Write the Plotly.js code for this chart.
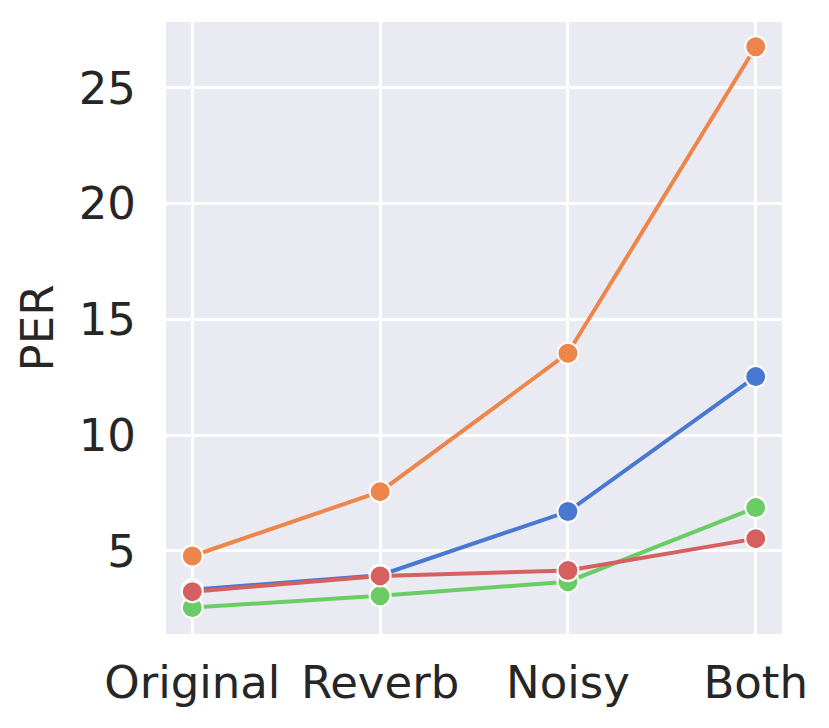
<!DOCTYPE html>
<html>
<head>
<meta charset="utf-8">
<script src="https://cdn.plot.ly/plotly-3.0.1.min.js"></script>
<style>html,body{margin:0;padding:0;background:#fff;}#chart{width:829px;height:728px;}</style>
</head>
<body>
<div id="chart"></div>
<script>
const categories = ["Original", "Reverb", "Noisy", "Both"];
const seriesNames = ["A", "B", "C", "D"];
const blueValues = [3.32, 3.95, 6.70, 12.53];
const orangeValues = [4.78, 7.56, 13.54, 26.78];
const greenValues = [2.55, 3.06, 3.67, 6.87];
const redValues = [3.24, 3.92, 4.15, 5.53];
const colors = ["#4878d0", "#ee854a", "#6acc64", "#d65f5f"];
const yTicks = [5, 10, 15, 20, 25];

const allValues = [blueValues, orangeValues, greenValues, redValues];
const xIdx = categories.map((c, i) => i);
const traces = allValues.map((vals, k) => ({
  type: "scatter",
  mode: "lines+markers",
  name: seriesNames[k],
  x: xIdx,
  y: vals,
  line: {color: colors[k], width: 4},
  marker: {color: colors[k], size: 21, line: {color: "#ffffff", width: 2}},
  showlegend: false
}));

const font = {family: "DejaVu Sans, sans-serif", size: 45, color: "#262626"};
const layout = {
  width: 829, height: 728,
  margin: {l: 166, r: 47, t: 22, b: 94},
  paper_bgcolor: "#ffffff",
  plot_bgcolor: "#eaeaf2",
  font: font,
  xaxis: {
    range: [-0.14, 3.14],
    tickmode: "array",
    tickvals: xIdx,
    ticktext: categories,
    showgrid: true, gridcolor: "#ffffff", gridwidth: 3,
    zeroline: false, showline: false,
    ticks: "outside", ticklen: 9, tickcolor: "rgba(0,0,0,0)",
    tickfont: font
  },
  yaxis: {
    range: [1.41, 27.85],
    tickmode: "array",
    tickvals: yTicks,
    ticktext: yTicks.map(String),
    showgrid: true, gridcolor: "#ffffff", gridwidth: 3,
    zeroline: false, showline: false,
    ticks: "outside", ticklen: 20, tickcolor: "rgba(0,0,0,0)",
    tickfont: font,
    title: {text: "PER", font: font, standoff: 10}
  }
};
Plotly.newPlot("chart", traces, layout, {displayModeBar: false, staticPlot: true});
</script>
</body>
</html>
